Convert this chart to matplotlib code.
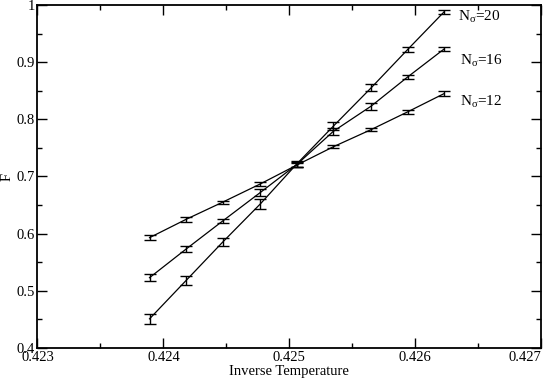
import numpy as np
import matplotlib
matplotlib.use("Agg")
import matplotlib.pyplot as plt
from matplotlib.ticker import MultipleLocator

plt.rcParams['font.family'] = ['Liberation Serif', 'DejaVu Serif']
plt.rcParams['mathtext.fontset'] = 'custom'
plt.rcParams['mathtext.rm'] = 'Liberation Serif'
plt.rcParams['mathtext.it'] = 'Liberation Serif:italic'

# inverse temperature values
beta = [0.42389, 0.42418, 0.42447, 0.42477, 0.42506, 0.42535, 0.42565, 0.42594, 0.42623]

f_n20 = [0.451, 0.518, 0.585, 0.652, 0.722, 0.788, 0.855, 0.922, 0.988]
err_n20 = [0.009, 0.008, 0.007, 0.009, 0.005, 0.007, 0.006, 0.004, 0.004]

f_n16 = [0.523, 0.573, 0.622, 0.672, 0.721, 0.779, 0.823, 0.874, 0.923]
err_n16 = [0.006, 0.005, 0.004, 0.006, 0.004, 0.006, 0.006, 0.004, 0.004]

f_n12 = [0.593, 0.625, 0.655, 0.687, 0.720, 0.752, 0.782, 0.813, 0.845]
err_n12 = [0.004, 0.004, 0.003, 0.003, 0.004, 0.003, 0.003, 0.003, 0.004]

labels = ["N$_\\mathrm{σ}$=20", "N$_\\mathrm{σ}$=16", "N$_\\mathrm{σ}$=12"]

xticks = [0.423, 0.424, 0.425, 0.426, 0.427]
xticklabels = ['0.423', '0.424', '0.425', '0.426', '0.427']
yticks = [0.4, 0.5, 0.6, 0.7, 0.8, 0.9, 1.0]
yticklabels = ['0.4', '0.5', '0.6', '0.7', '0.8', '0.9', '1']

fig = plt.figure(figsize=(5.45, 3.81), dpi=100)
ax = fig.add_axes([0.0688, 0.0866, 0.9239, 0.9003])

for f, e in [(f_n12, err_n12), (f_n16, err_n16), (f_n20, err_n20)]:
    ax.errorbar(beta, f, yerr=e, color='black', lw=0.9, elinewidth=1.0,
                capsize=4.5, capthick=1.0)

ax.text(0.42634, 0.979, labels[0], fontsize=11, va='center', ha='left')
ax.text(0.42636, 0.902, labels[1], fontsize=11, va='center', ha='left')
ax.text(0.42636, 0.831, labels[2], fontsize=11, va='center', ha='left')

ax.set_xlim(0.423, 0.427)
ax.set_ylim(0.4, 1.0)
ax.set_xticks(xticks, xticklabels)
ax.set_yticks(yticks, yticklabels)
ax.xaxis.set_minor_locator(MultipleLocator(0.0005))
ax.yaxis.set_minor_locator(MultipleLocator(0.05))

ax.tick_params(which='both', direction='in', top=True, right=True,
               labelsize=10.5, width=1.0)
ax.tick_params(which='major', length=7, pad=2)
ax.tick_params(which='minor', length=3.5)
for s in ax.spines.values():
    s.set_linewidth(1.3)

# keep the last x label inside the figure
ax.get_xticklabels()[-1].set_horizontalalignment('right')

ax.set_xlabel("Inverse Temperature", fontsize=10.5, labelpad=1)
ax.set_ylabel("F", fontsize=10.5, labelpad=2)

fig.savefig("out.png", dpi=100)
